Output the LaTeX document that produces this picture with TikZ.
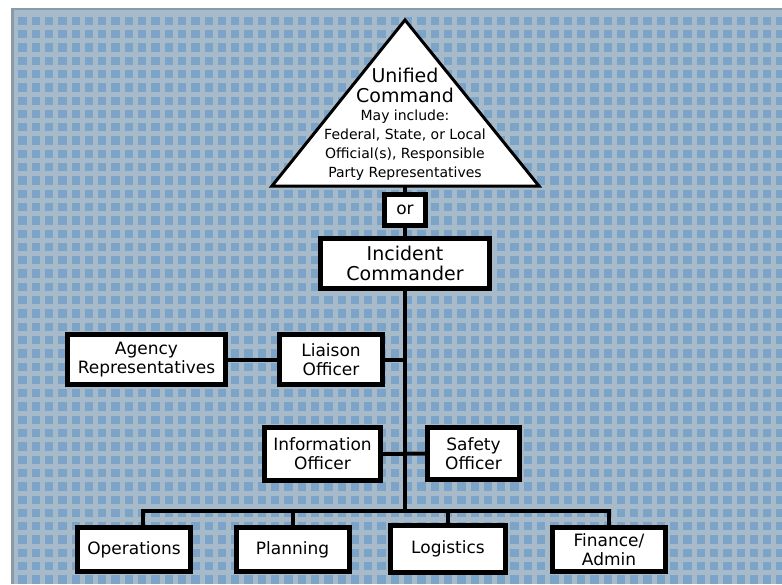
\documentclass[tikz,border=0pt]{standalone}
\usepackage{fontspec}
\setmainfont{DejaVu Sans}
\definecolor{gridbg}{RGB}{166,186,201}
\definecolor{gridsq}{RGB}{124,164,200}
\definecolor{gridedge}{RGB}{140,154,165}

\begin{document}
\begin{tikzpicture}[x=1pt, y=-1pt,
      box/.style = {draw, line width=5pt, fill=white, align=center,
        inner sep=0pt, font=\fontsize{17}{19}\selectfont},
      unit/.style = {box, minimum width=113pt, minimum height=44pt},
      link/.style = {line width=4pt}]
  \useasboundingbox (0,0) rectangle (782,584);
  \fill[white] (0,0) rectangle (782,584);
  \fill[gridbg] (11,8) rectangle (782,584);
  \begin{scope}
    \clip (11,8) rectangle (782,584);
    \foreach \i in {0,...,57}
      \foreach \j in {0,...,42}
        \fill[gridsq] ({18.3+13.3*\i},{16.7+13.3*\j}) rectangle +(8.3,8.3);
  \end{scope}
  \fill[gridedge] (11,8) rectangle (14,584);
  \fill[gridedge] (11,8) rectangle (782,10);

  \coordinate (apex) at (405,20);
  \coordinate (baseL) at (272,186);
  \coordinate (baseR) at (539,186);
  \coordinate (baseM) at (405,186);
  \draw[line width=3pt, fill=white] (apex) -- (baseR) -- (baseL) -- cycle;
  \node[font=\fontsize{19}{20}\selectfont, align=center] (ucTitle) at (405,85)
    {Unified\\Command};
  \node[font=\fontsize{14}{19}\selectfont, align=center] (ucNote) at (405,145)
    {May include:\\Federal, State, or Local\\Official(s), Responsible\\Party Representatives};

  \node[box, minimum width=41pt, minimum height=31pt] (or) at (405,210) {or};
  \node[box, font=\fontsize{19}{20}\selectfont, minimum width=169pt,
    minimum height=50pt] (ic) at (405,263.5) {Incident\\Commander};
  \node[box, minimum width=103pt, minimum height=50pt] (liaison) at (331,359.5)
    {Liaison\\Officer};
  \node[box, minimum width=158pt, minimum height=50pt] (agency) at (146.5,359.5)
    {Agency\\Representatives};
  \node[box, minimum width=116pt, minimum height=53pt] (info) at (322.5,454)
    {Information\\Officer};
  \node[box, minimum width=92pt, minimum height=52pt] (safety) at (473.5,453.5)
    {Safety\\Officer};
  \node[unit] (ops) at (134,549.5) {Operations};
  \node[unit] (plan) at (292.5,549.5) {Planning};
  \node[unit, minimum width=115pt, minimum height=47pt] (logi) at (448,549) {Logistics};
  \node[unit] (fin) at (609,549.5) {Finance/\\Admin};

  \coordinate (bus) at (405,511);
  \draw[link] (baseM) -- (or.north);
  \draw[link] (or.south) -- (ic.north);
  \draw[link] (ic.south) -- (bus);
  \draw[link] (agency.east) -- (liaison.west);
  \draw[link] (liaison.east) -- (liaison.east -| ic.south);
  \draw[link] (info.east) -- (safety.west);
  \draw[link] ([xshift=9pt]ops.north) |- (bus -| fin.north) -- (fin.north);
  \draw[link] (plan.north) -- (plan.north |- bus);
  \draw[link] (logi.north) -- (logi.north |- bus);
\end{tikzpicture}
\end{document}
